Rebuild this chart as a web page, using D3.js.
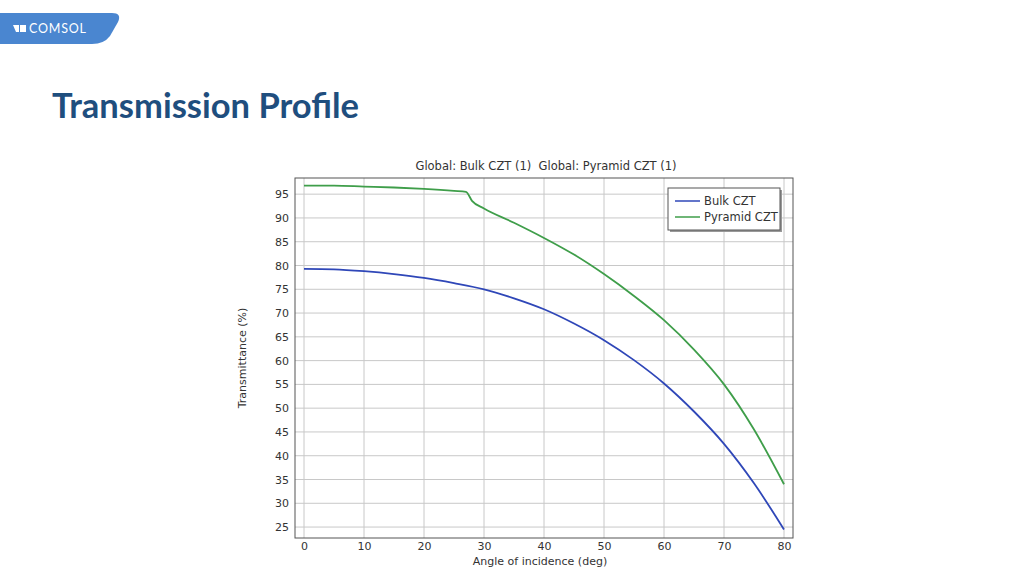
<!DOCTYPE html>
<html><head><meta charset="utf-8">
<script src="https://cdn.jsdelivr.net/npm/d3@7"></script>
<style>body{margin:0;background:#fff;font-family:"DejaVu Sans",sans-serif}</style>
</head><body>
<svg id="c" width="1024" height="576"></svg>
<script>
// Values
const bulkAngle = [0, 5, 10, 15, 20, 25, 30, 35, 40, 45, 50, 55, 60, 65, 70, 75, 80];
const bulkT = [79.3, 79.2, 78.8, 78.2, 77.4, 76.3, 75.0, 73.1, 70.8, 67.8, 64.3, 60.1, 55.2, 49.3, 42.5, 34.2, 24.5];
const pyrAngle = [0, 5, 10, 15, 20, 25, 27, 28, 30, 35, 40, 45, 50, 55, 60, 65, 70, 75, 80];
const pyrT = [96.8, 96.8, 96.6, 96.4, 96.1, 95.7, 95.5, 93.6, 92.0, 89.0, 85.8, 82.3, 78.2, 73.6, 68.5, 62.3, 55.0, 45.5, 34.0];
const xTicks = [0, 10, 20, 30, 40, 50, 60, 70, 80];
const yTicks = d3.range(25, 100, 5);

const svg = d3.select("#c");

// header logo
svg.append("path").attr("d", "M0,13 H112 Q122,13 118,22 L110,36 Q104,44 92,44 H0 Z").attr("fill", "#4a86d0");
svg.append("path").attr("d", "M13,25 H19 V32 H16 Z M20,25 H26 V32 H20 Z").attr("fill", "#fff");
svg.append("text").attr("x", 29).attr("y", 33).text("COMSOL").attr("fill", "#fff")
  .attr("font-family", "Lato").attr("font-size", 12.5).attr("letter-spacing", 0.8);

svg.append("text").attr("x", 52).attr("y", 118).text("Transmission Profile")
  .attr("fill", "#1f4e7e").attr("font-family", "Lato").attr("font-weight", "bold").attr("font-size", 34.5);

const L = 295, R = 793, T = 178, B = 538;
const x = d3.scaleLinear().domain([-1.5, 81.5]).range([L, R]);
const y = d3.scaleLinear().domain([22.7, 98.4]).range([B, T]);

const g = svg.append("g");
g.selectAll(".vg").data(xTicks).join("line")
  .attr("x1", d => x(d)).attr("x2", d => x(d)).attr("y1", T).attr("y2", B)
  .attr("stroke", "#c8c8c8");
g.selectAll(".hg").data(yTicks).join("line")
  .attr("y1", d => y(d)).attr("y2", d => y(d)).attr("x1", L).attr("x2", R)
  .attr("stroke", "#c8c8c8");
g.append("rect").attr("x", L).attr("y", T).attr("width", R - L).attr("height", B - T)
  .attr("fill", "none").attr("stroke", "#555");

const xa = svg.append("g").attr("transform", `translate(0,${B})`)
  .call(d3.axisBottom(x).tickValues(xTicks).tickSize(0).tickPadding(4));
const ya = svg.append("g").attr("transform", `translate(${L},0)`)
  .call(d3.axisLeft(y).tickValues(yTicks).tickSize(0).tickPadding(6));
[xa, ya].forEach(a => {
  a.select(".domain").remove();
  a.selectAll("text").attr("font-size", 11).attr("fill", "#333").attr("font-family", "DejaVu Sans");
});

const line = d3.line().x(d => x(d[0])).y(d => y(d[1])).curve(d3.curveMonotoneX);
svg.append("path").datum(d3.zip(bulkAngle, bulkT)).attr("d", line)
  .attr("fill", "none").attr("stroke", "#2f47b8").attr("stroke-width", 1.8);
svg.append("path").datum(d3.zip(pyrAngle, pyrT)).attr("d", line)
  .attr("fill", "none").attr("stroke", "#3f9e4a").attr("stroke-width", 1.8);

svg.append("text").attr("x", (L + R) / 2 + 2).attr("y", 170).attr("text-anchor", "middle")
  .attr("font-size", 11.5).attr("fill", "#333").attr("xml:space", "preserve")
  .text("Global: Bulk CZT (1)  Global: Pyramid CZT (1)");
svg.append("text").attr("x", (L + R) / 2 - 4).attr("y", 565).attr("text-anchor", "middle")
  .attr("font-size", 11).attr("fill", "#333").text("Angle of incidence (deg)");
svg.append("text").attr("transform", "translate(246,358) rotate(-90)").attr("text-anchor", "middle")
  .attr("font-size", 11).attr("fill", "#333").text("Transmittance (%)");

// legend
const lg = svg.append("g").attr("transform", "translate(668,188)");
lg.append("rect").attr("x", 2).attr("y", 2).attr("width", 112).attr("height", 42).attr("fill", "#999");
lg.append("rect").attr("width", 112).attr("height", 42).attr("fill", "#fff").attr("stroke", "#555");
[["Bulk CZT", "#2f47b8"], ["Pyramid CZT", "#3f9e4a"]].forEach((d, i) => {
  lg.append("line").attr("x1", 7).attr("x2", 32).attr("y1", 13 + i * 16).attr("y2", 13 + i * 16)
    .attr("stroke", d[1]).attr("stroke-width", 1.5);
  lg.append("text").attr("x", 36).attr("y", 17 + i * 16).attr("font-size", 11.5).attr("fill", "#333").text(d[0]);
});
</script>
</body></html>
